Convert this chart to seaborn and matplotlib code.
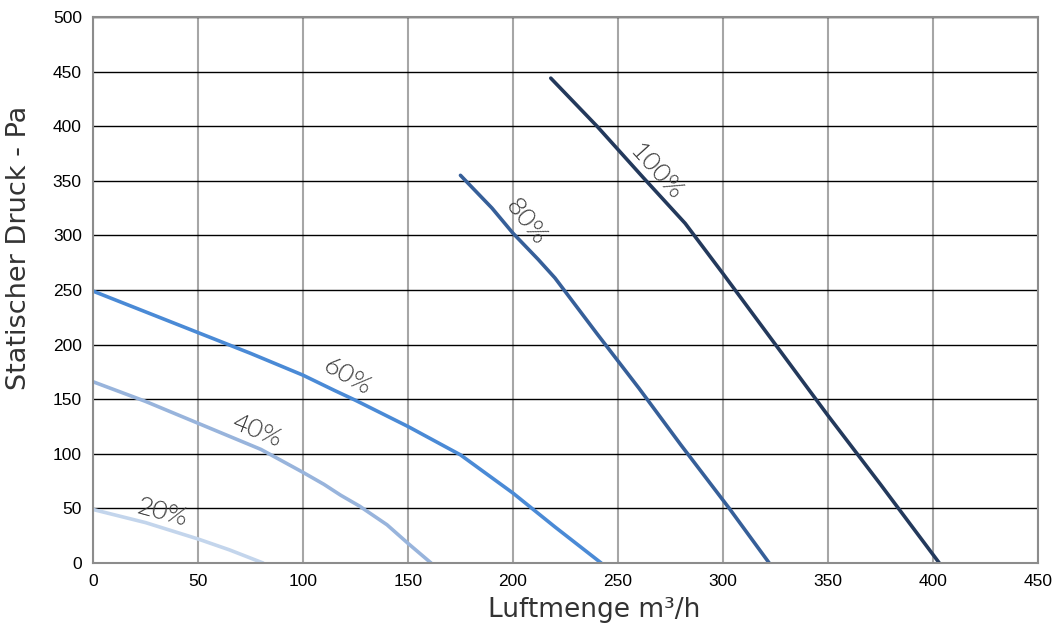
import numpy as np
import pandas as pd
import matplotlib
matplotlib.use('Agg')
import matplotlib.pyplot as plt
import seaborn as sns

# Kennlinien (Luftmenge m3/h, Druck Pa)
x_20 = [0, 25, 50, 65, 81]
y_20 = [49, 37, 22, 12, 0]

x_40 = [0, 25, 50, 80, 100, 110, 118, 127, 140, 150, 161]
y_40 = [166, 148, 128, 104, 83, 72, 62, 52, 35, 18, 0]

x_60 = [0, 25, 50, 75, 100, 115, 125, 150, 175, 200, 220, 242]
y_60 = [249, 230, 211, 192, 172, 158, 149, 125, 99, 64, 33, 0]

x_80 = [175, 190, 200, 212, 220, 240, 260, 280, 303, 322]
y_80 = [355, 325, 302, 278, 261, 210, 160, 108, 50, 0]

x_100 = [218, 240, 262, 282, 300, 325, 350, 375, 403]
y_100 = [444, 400, 353, 311, 265, 200, 135, 72, 0]

series_names = ['20%', '40%', '60%', '80%', '100%']
colors = ['#c3d5ec', '#98b4dc', '#4a8ad6', '#365f99', '#23395c']

# Beschriftungen: Position und Drehung
label_x = [33, 78, 121, 206, 268]
label_y = [46, 121, 171, 312, 358]
label_rot = [-15, -22, -30, -52, -48]

frames = []
for name, xs, ys in zip(series_names, [x_20, x_40, x_60, x_80, x_100],
                        [y_20, y_40, y_60, y_80, y_100]):
    frames.append(pd.DataFrame({'Luftmenge': xs, 'Druck': ys, 'Stufe': name}))
df = pd.concat(frames, ignore_index=True)

sns.set_style('white')
plt.rcParams['font.family'] = ['Liberation Sans', 'DejaVu Sans']

fig = plt.figure(figsize=(10.54, 6.27), dpi=100)
ax = fig.add_axes([0.0882, 0.1021, 0.8966, 0.8708])

sns.lineplot(data=df, x='Luftmenge', y='Druck', hue='Stufe', palette=colors,
             sort=False, estimator=None, linewidth=2.6, legend=False, ax=ax)

ax.set_xlim(0, 450)
ax.set_ylim(0, 500)
ax.set_xticks(np.arange(0, 451, 50))
ax.set_yticks(np.arange(0, 501, 50))

# Gitter: horizontal schwarz, vertikal grau
ax.yaxis.grid(True, color='black', linewidth=1.0)
ax.xaxis.grid(True, color='#a6a6a6', linewidth=1.5)
ax.set_axisbelow(True)

for side in ['top', 'right', 'bottom', 'left']:
    ax.spines[side].set_color('#8c8c8c')
    ax.spines[side].set_linewidth(1.5)

ax.tick_params(axis='both', which='major', direction='out', length=5,
               width=1.2, color='#8c8c8c', labelsize=12.5, labelcolor='black',
               pad=3)

label_font = ['DejaVu Sans']
ax.set_xlabel('Luftmenge m³/h', fontsize=19, family=label_font,
              color='#333333', va='center')
ax.set_ylabel('Statischer Druck - Pa', fontsize=19.5, family=label_font,
              color='#333333', va='center')
ax.xaxis.set_label_coords(0.530, -0.086)
ax.yaxis.set_label_coords(-0.078, 0.578)

for name, lx, ly, rot in zip(series_names, label_x, label_y, label_rot):
    ax.text(lx, ly, name, fontsize=19, rotation=rot, rotation_mode='anchor',
            ha='center', va='center', color='#3a3a3a', fontweight=300,
            family=['Lato', 'DejaVu Sans'])

fig.savefig('out.png', dpi=100)
